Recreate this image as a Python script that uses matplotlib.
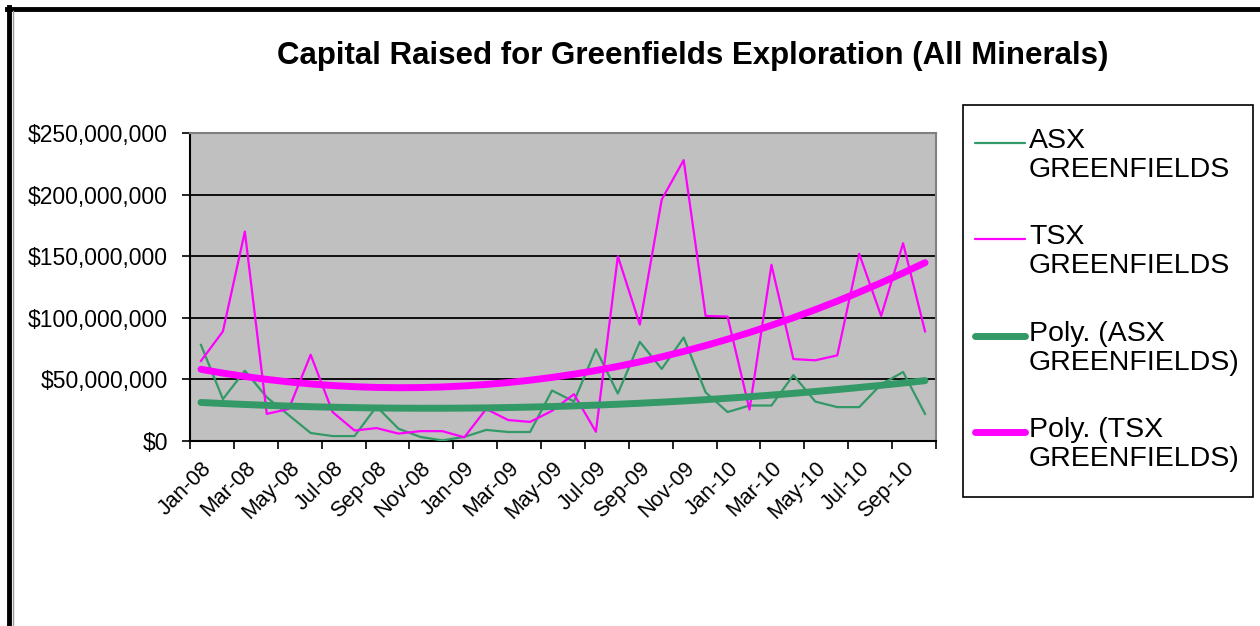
import numpy as np
import matplotlib
matplotlib.use("Agg")
import matplotlib.pyplot as plt
from matplotlib.lines import Line2D
from matplotlib.patches import Rectangle
from matplotlib.ticker import FuncFormatter

# monthly capital raised, in millions of dollars (Jan-08 .. Oct-10)
months = ["Jan-08", "Feb-08", "Mar-08", "Apr-08", "May-08", "Jun-08", "Jul-08", "Aug-08",
          "Sep-08", "Oct-08", "Nov-08", "Dec-08", "Jan-09", "Feb-09", "Mar-09", "Apr-09",
          "May-09", "Jun-09", "Jul-09", "Aug-09", "Sep-09", "Oct-09", "Nov-09", "Dec-09",
          "Jan-10", "Feb-10", "Mar-10", "Apr-10", "May-10", "Jun-10", "Jul-10", "Aug-10",
          "Sep-10", "Oct-10"]
asx_m = [78, 34, 57, 35.5, 21, 6.5, 4, 4, 28, 10, 3.3, 0.5, 3.3, 9, 7.3, 7.3, 41, 32,
         74.5, 38.5, 80.5, 58.5, 84, 39.5, 23.5, 28.8, 28.8, 53.5, 32, 27.5, 27.5, 46, 56, 22]
tsx_m = [65, 89, 170, 22, 26, 70, 23.5, 8.5, 10.5, 6, 8, 8, 3, 26, 17, 15.5, 24.5, 38,
         7.5, 150, 94.5, 196, 228, 101.5, 101, 25.5, 143, 66.5, 65.5, 69.5, 152, 101.5, 160.5, 89]
labels = ["ASX\nGREENFIELDS", "TSX\nGREENFIELDS", "Poly. (ASX\nGREENFIELDS)", "Poly. (TSX\nGREENFIELDS)"]

asx = np.array(asx_m) * 1e6
tsx = np.array(tsx_m) * 1e6

GREEN = "#339966"
MAGENTA = "#FF00FF"

W, H = 1260, 626
plt.rcParams["font.family"] = ["Liberation Sans", "DejaVu Sans"]
fig = plt.figure(figsize=(W / 100, H / 100), dpi=100)
fig.patch.set_facecolor("white")


def fx(x):
    return x / W


def fy(y):
    return 1 - y / H


# plot area in pixels
left, right, top, bottom = 190, 936, 133, 441
ax = fig.add_axes([fx(left), fy(bottom), fx(right - left), (bottom - top) / H])
ax.set_facecolor("#C0C0C0")

x = np.arange(len(months))
# Excel style polynomial (order 2) trendlines
xi = np.arange(1, len(months) + 1)
asx_trend = np.polyval(np.polyfit(xi, asx, 2), xi)
tsx_trend = np.polyval(np.polyfit(xi, tsx, 2), xi)

ax.plot(x, asx, color=GREEN, lw=1.6, zorder=3)
ax.plot(x, tsx, color=MAGENTA, lw=1.6, zorder=3)
ax.plot(x, asx_trend, color=GREEN, lw=5, solid_capstyle="round", zorder=4)
ax.plot(x, tsx_trend, color=MAGENTA, lw=5, solid_capstyle="round", zorder=4)

ax.set_xlim(-0.5, len(months) - 0.5)
ax.set_ylim(0, 250e6)
ax.set_yticks(np.arange(0, 250e6 + 1, 50e6))
ax.yaxis.set_major_formatter(FuncFormatter(lambda v, p: "${:,.0f}".format(v)))
ax.grid(axis="y", color="black", lw=1.3, zorder=1)
ax.set_axisbelow(True)

# ticks between categories, labels on every second month
ax.set_xticks(np.arange(-0.5, len(months), 2))
ax.set_xticklabels([])
ax.set_xticks(x[::2], minor=True)
ax.set_xticklabels(months[::2], minor=True, rotation=45, ha="right", va="top",
                   rotation_mode="anchor", fontsize=15.5)
ax.tick_params(axis="x", which="major", direction="out", length=6, width=1.2)
ax.tick_params(axis="x", which="minor", length=0, pad=12)
ax.tick_params(axis="y", direction="out", length=6, width=1.2, labelsize=16.5, pad=10)

for s in ["top", "right"]:
    ax.spines[s].set_color("#808080")
    ax.spines[s].set_linewidth(1.5)
for s in ["left", "bottom"]:
    ax.spines[s].set_color("black")
    ax.spines[s].set_linewidth(1.5)

fig.text(fx(693), fy(56), "Capital Raised for Greenfields Exploration (All Minerals)",
         ha="center", va="center", fontsize=22.5, fontweight="bold")

# legend box drawn by hand so the keys sit on the first text line
fig.patches.append(Rectangle((fx(963), fy(497)), fx(1253 - 963), (497 - 105) / H,
                             transform=fig.transFigure, facecolor="white",
                             edgecolor="black", lw=1.2))
styles = [(GREEN, 1.6), (MAGENTA, 1.6), (GREEN, 5), (MAGENTA, 5)]
for i, (lab, (c, lw)) in enumerate(zip(labels, styles)):
    yc = 143 + 96.3 * i
    fig.add_artist(Line2D([fx(975), fx(1025)], [fy(yc), fy(yc)], transform=fig.transFigure,
                          color=c, lw=lw, solid_capstyle="round"))
    fig.text(fx(1029), fy(yc - 15), lab, ha="left", va="top", fontsize=20.5,
             linespacing=1.15)

# outer frame
fig.add_artist(Line2D([fx(7), fx(1260)], [fy(9), fy(9)], transform=fig.transFigure,
                      color="black", lw=3.5))
fig.add_artist(Line2D([fx(9), fx(9)], [fy(7), fy(626)], transform=fig.transFigure,
                      color="black", lw=3.5))
fig.add_artist(Line2D([fx(13), fx(13)], [fy(11), fy(626)], transform=fig.transFigure,
                      color="#999999", lw=1))

fig.savefig("out.png", dpi=100)
